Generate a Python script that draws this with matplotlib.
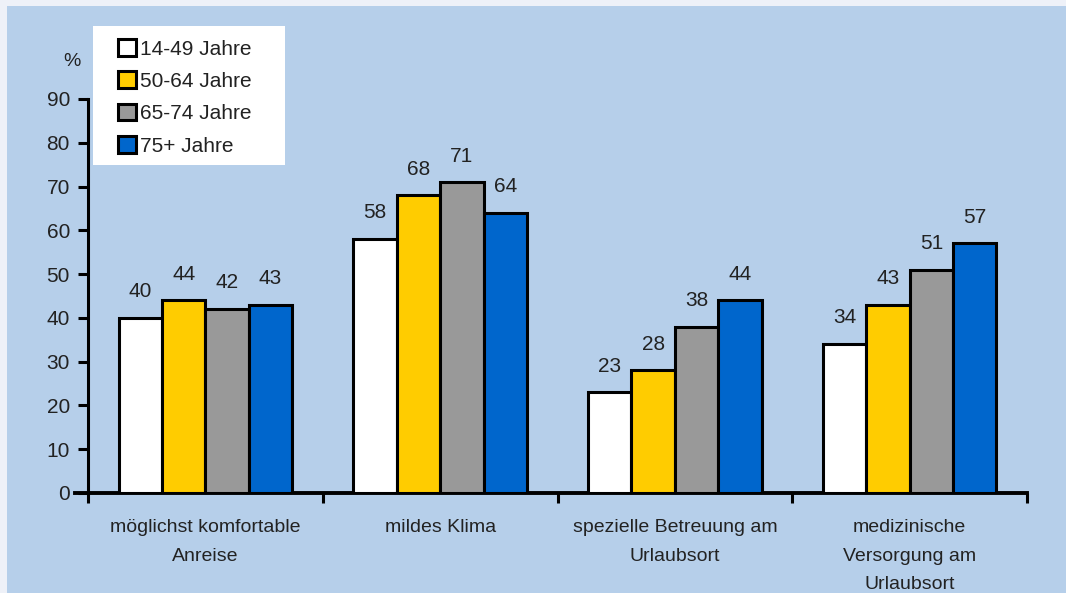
import numpy as np
import matplotlib
matplotlib.use("Agg")
import matplotlib.pyplot as plt
from matplotlib.patches import Patch, Rectangle

plt.rcParams['font.family'] = ['Liberation Sans', 'DejaVu Sans']

categories = ["möglichst komfortable\nAnreise", "mildes Klima",
              "spezielle Betreuung am\nUrlaubsort",
              "medizinische\nVersorgung am\nUrlaubsort"]
groups = ["14-49 Jahre", "50-64 Jahre", "65-74 Jahre", "75+ Jahre"]
vals_14_49 = [40, 58, 23, 34]
vals_50_64 = [44, 68, 28, 43]
vals_65_74 = [42, 71, 38, 51]
vals_75 = [43, 64, 44, 57]
colors = ["#ffffff", "#ffcc00", "#999999", "#0066cc"]
yticks = [0, 10, 20, 30, 40, 50, 60, 70, 80, 90]

bg = "#b6cfea"
txt = "#222222"
W, H = 1066, 593

fig = plt.figure(figsize=(10.66, 5.93), dpi=100)
fig.patch.set_facecolor("#eef1f8")
fig.patches.append(Rectangle((7/W, 0), 1, 1 - 6/H, transform=fig.transFigure,
                             facecolor=bg, edgecolor="none", zorder=-10))
# white legend box
fig.patches.append(Rectangle((93/W, 1 - 165/H), (285-93)/W, (165-26)/H,
                             transform=fig.transFigure, facecolor="white",
                             edgecolor="none", zorder=5))

ax = fig.add_axes([88/W, 1 - 493/H, (1027-88)/W, (493-99)/H])
ax.patch.set_alpha(0)

x = np.arange(len(categories)) + 0.5
w = 0.185
allvals = [vals_14_49, vals_50_64, vals_65_74, vals_75]
for i, (v, c) in enumerate(zip(allvals, colors)):
    pos = x + (i - 1.5) * w
    ax.bar(pos, v, w, color=c, edgecolor="black", linewidth=2.2, zorder=3)
    for xb, val in zip(pos, v):
        ax.annotate(str(val), (xb, val), xytext=(0, 12), textcoords="offset points",
                    ha="center", va="bottom", fontsize=15, color=txt)

ax.set_xlim(0, 4)
ax.set_ylim(0, 90)
ax.set_yticks(yticks)
ax.tick_params(axis="y", length=7, width=2.2, pad=6, labelsize=15, labelcolor=txt)
ax.set_xticks(x)
ax.set_xticklabels(categories, fontsize=14, color=txt, linespacing=1.88)
ax.tick_params(axis="x", which="major", length=0, pad=19)
ax.set_xticks([0, 1, 2, 3, 4], minor=True)
ax.tick_params(axis="x", which="minor", length=7, width=2.2)
for s in ["top", "right"]:
    ax.spines[s].set_visible(False)
ax.spines["left"].set_linewidth(2.2)
ax.spines["bottom"].set_linewidth(2.8)
ax.spines["bottom"].set_bounds(-0.055, 4)

fig.text(72/W, 1 - 62/H, "%", fontsize=14, color=txt, ha="center", va="center")

handles = [Patch(facecolor=c, edgecolor="black", linewidth=2.2) for c in colors]
leg = fig.legend(handles, groups, loc="upper left", bbox_to_anchor=(118/W, 1 - 39/H),
                 fontsize=15, frameon=False, handlelength=0.85,
                 handleheight=0.85, handletextpad=0.2, labelspacing=0.62,
                 borderpad=0, borderaxespad=0)
leg.set_zorder(6)
for t in leg.get_texts():
    t.set_color(txt)

fig.savefig("out.png", dpi=100, facecolor=fig.get_facecolor())
